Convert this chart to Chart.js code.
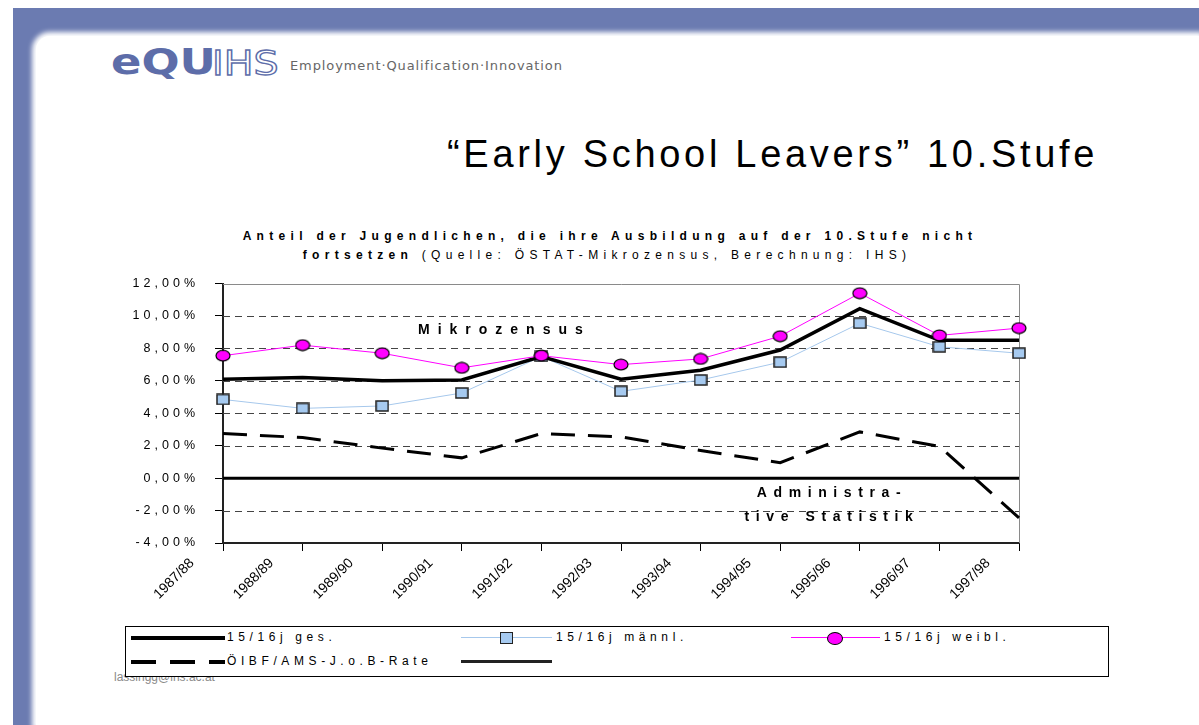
<!DOCTYPE html>
<html>
<head>
<meta charset="utf-8">
<script src="https://cdn.jsdelivr.net/npm/chart.js@4/dist/chart.umd.min.js"></script>
<style>
  html, body { margin: 0; padding: 0; }
  body { width: 1199px; height: 725px; position: relative; overflow: hidden; background: #fff;
         font-family: "Liberation Sans", Arial, sans-serif; color: #000; }
  .abs { position: absolute; white-space: nowrap; }
  #frame { left: 13px; top: 8px; right: 0; bottom: 0; background: #6b7bb1; }
  #page { left: 36px; top: 36px; right: 0; bottom: 0; background: #fff;
          border-top-left-radius: 14px; box-shadow: 0 0 5px 4px #fff; }
  #logo1 { left: 111px; top: 42px; font: bold 35px "DejaVu Sans", sans-serif; color: #5d6da9;
           transform: scaleX(1.28); transform-origin: 0 0; }
  #logo2 { left: 212px; top: 44px; font: 33px "DejaVu Sans", sans-serif; color: #fff;
           -webkit-text-stroke: 1.3px #5d6da9; transform: scaleX(1.2); transform-origin: 0 0; }
  #tagline { left: 290px; top: 58px; font: 13px "DejaVu Sans", sans-serif; color: #666; letter-spacing: 0.9px; }
  #slideTitle { left: 447px; top: 133px; font: 38px "Liberation Sans", Arial, sans-serif; letter-spacing: 3.7px; }
  .ct { font-size: 12px; letter-spacing: 5.3px; transform: translateX(-50%); }
  #ct1 { left: 610px; top: 229px; font-weight: bold; }
  #ct2 { left: 607px; top: 248px; }
  .ann { font-weight: bold; font-size: 14px; letter-spacing: 8px; }
  #chartBox { left: 100px; top: 260px; width: 960px; height: 360px; }
  #email { left: 114px; top: 670px; font: 12px "Liberation Sans Narrow", "Liberation Sans", sans-serif; color: #8a8a8a; }
  #legend { left: 125px; top: 626px; width: 982px; height: 49px; border: 1.5px solid #000; background: #fff; }
  .lt { font-size: 12px; letter-spacing: 4.6px; }
  .ln { position: absolute; }
</style>
</head>
<body>
<div class="abs" id="frame"></div>
<div class="abs" id="page"></div>
<div class="abs" id="logo1">eQU</div>
<div class="abs" id="logo2">IHS</div>
<div class="abs" id="tagline">Employment·Qualification·Innovation</div>
<div class="abs" id="slideTitle">“Early School Leavers” 10.Stufe</div>
<div class="abs ct" id="ct1">Anteil der Jugendlichen, die ihre Ausbildung auf der 10.Stufe nicht</div>
<div class="abs ct" id="ct2"><b>fortsetzen</b> (Quelle: ÖSTAT-Mikrozensus, Berechnung: IHS)</div>
<div class="abs" id="chartBox"><canvas id="chart" width="960" height="360"></canvas></div>
<div class="abs ann" style="left:418px; top:321px;">Mikrozensus</div>
<div class="abs ann" style="left:832px; top:484px; transform:translateX(-50%); text-align:center; letter-spacing:6.6px;">Administra-</div>
<div class="abs ann" style="left:832px; top:508px; transform:translateX(-50%); text-align:center; letter-spacing:6.6px;">tive Statistik</div>
<div class="abs" id="email">lassingg@ihs.ac.at</div>
<div class="abs" id="legend">
  <div class="ln" style="left:5px; top:9px; width:94px; height:4px; background:#000;"></div>
  <div class="abs lt" style="left:101px; top:3px;">15/16j ges.</div>
  <div class="ln" style="left:335px; top:10px; width:91px; height:1px; background:#a6c8ec;"></div>
  <div class="ln" style="left:374px; top:5px; width:11px; height:10px; background:#a6caf0; border:1.5px solid #222;"></div>
  <div class="abs lt" style="left:430px; top:3px;">15/16j männl.</div>
  <div class="ln" style="left:665px; top:10px; width:89px; height:1px; background:#ff00ff;"></div>
  <div class="ln" style="left:701px; top:5px; width:14px; height:11px; background:#ff00ff; border:1.2px solid #000; border-radius:50%;"></div>
  <div class="abs lt" style="left:758px; top:3px;">15/16j weibl.</div>
  <div class="ln" style="left:5px; top:33px; width:25px; height:4px; background:#000;"></div>
  <div class="ln" style="left:44px; top:33px; width:25px; height:4px; background:#000;"></div>
  <div class="ln" style="left:83px; top:33px; width:16px; height:4px; background:#000;"></div>
  <div class="abs lt" style="left:101px; top:27px;">ÖIBF/AMS-J.o.B-Rate</div>
  <div class="ln" style="left:335px; top:33px; width:91px; height:3px; background:#222;"></div>
</div>

<script>
// data (percent)
const years = ['1987/88', '1988/89', '1989/90', '1990/91', '1991/92', '1992/93',
               '1993/94', '1994/95', '1995/96', '1996/97', '1997/98'];
const ges     = [6.1, 6.2, 6.0, 6.05, 7.5, 6.1, 6.65, 7.9, 10.45, 8.5, 8.5];
const maennl  = [4.85, 4.3, 4.45, 5.25, 7.5, 5.35, 6.05, 7.15, 9.55, 8.1, 7.7];
const weibl   = [7.55, 8.2, 7.7, 6.8, 7.55, 7.0, 7.35, 8.75, 11.4, 8.8, 9.25];
const jobRate = [2.75, 2.5, 1.85, 1.25, 2.75, 2.55, 1.7, 0.95, 2.85, 1.95, -2.45];
const adminZero = [0, 0, 0, 0, 0, 0, 0, 0, 0, 0, 0];
const yMin = -4, yMax = 12, yStep = 2;

// marker images
function squareMarker() {
  const c = document.createElement('canvas');
  c.width = 14; c.height = 12;
  const g = c.getContext('2d');
  g.fillStyle = '#a6caf0';
  g.fillRect(1, 1, 12, 10);
  g.lineWidth = 1.5; g.strokeStyle = '#222';
  g.strokeRect(1, 1, 12, 10);
  return c;
}
function ellipseMarker() {
  const c = document.createElement('canvas');
  c.width = 16; c.height = 13;
  const g = c.getContext('2d');
  g.beginPath();
  g.ellipse(8, 6.5, 7, 5.3, 0, 0, Math.PI * 2);
  g.fillStyle = '#ff00ff'; g.fill();
  g.lineWidth = 1.2; g.strokeStyle = '#000'; g.stroke();
  return c;
}

// dashed grid + plot frame
const dashGrid = {
  id: 'dashGrid',
  beforeDatasetsDraw(chart) {
    const {ctx, chartArea: a, scales: {y}} = chart;
    ctx.save();
    ctx.lineWidth = 1;
    ctx.strokeStyle = '#444';
    ctx.setLineDash([7, 5]);
    y.ticks.forEach(t => {
      if (t.value === yMin || t.value === yMax) return;
      const py = Math.round(y.getPixelForValue(t.value)) + 0.5;
      ctx.beginPath(); ctx.moveTo(a.left, py); ctx.lineTo(a.right, py); ctx.stroke();
    });
    ctx.setLineDash([]);
    ctx.strokeStyle = '#8a8a8a';
    const top = Math.round(y.getPixelForValue(yMax)) + 0.5;
    ctx.beginPath();
    ctx.moveTo(a.left, top); ctx.lineTo(a.right + 0.5, top); ctx.lineTo(a.right + 0.5, a.bottom);
    ctx.stroke();
    ctx.restore();
  }
};

// letter-spaced y tick labels
const spacedTicks = {
  id: 'spacedTicks',
  beforeDraw(chart) {
    const s = chart.scales.y;
    if (s._spaced) return;
    const orig = s.drawLabels;
    s.drawLabels = function(area) {
      this.ctx.save();
      this.ctx.letterSpacing = '4px';
      orig.call(this, area);
      this.ctx.restore();
    };
    s._spaced = true;
  }
};

Chart.defaults.font.family = '"Liberation Sans", Arial, sans-serif';
Chart.defaults.color = '#000';

new Chart(document.getElementById('chart'), {
  type: 'line',
  data: {
    labels: years,
    datasets: [
      { label: '15/16j weibl.', data: weibl, borderColor: '#ff00ff', borderWidth: 1,
        pointStyle: ellipseMarker(), pointRadius: 7, order: 1 },
      { label: '15/16j ges.', data: ges, borderColor: '#000', borderWidth: 3.5,
        pointRadius: 0, order: 2 },
      { label: '15/16j männl.', data: maennl, borderColor: '#a6c8ec', borderWidth: 1,
        pointStyle: squareMarker(), pointRadius: 7, order: 3 },
      { label: 'ÖIBF/AMS-J.o.B-Rate', data: jobRate, borderColor: '#000', borderWidth: 3,
        borderDash: [24, 13], pointRadius: 0, order: 4 },
      { label: '', data: adminZero, borderColor: '#000', borderWidth: 3,
        pointRadius: 0, order: 5 }
    ]
  },
  options: {
    responsive: false,
    animation: false,
    devicePixelRatio: 1,
    clip: false,
    layout: { padding: { left: 0, top: 4, right: 41, bottom: 0 } },
    plugins: { legend: { display: false }, tooltip: { enabled: false } },
    scales: {
      x: {
        offset: false,
        grid: { display: true, drawOnChartArea: false, drawTicks: true, tickLength: 8,
                tickColor: '#000', offset: false },
        border: { display: true, color: '#222', width: 2 },
        ticks: { autoSkip: false, maxRotation: 45, minRotation: 45, labelOffset: -31,
                 padding: 4, font: { size: 14 } },
        afterFit(scale) { scale.height = 77; }
      },
      y: {
        min: yMin, max: yMax,
        grid: { display: true, drawOnChartArea: false, drawTicks: true, tickLength: 8,
                tickColor: '#000' },
        border: { display: true, color: '#222', width: 2 },
        ticks: { stepSize: yStep, padding: 16, font: { size: 12.5 },
                 callback: v => v.toFixed(2).replace('.', ',') + '%' },
        afterFit(scale) { scale.width = 123; }
      }
    }
  },
  plugins: [dashGrid, spacedTicks]
});
</script>
</body>
</html>
